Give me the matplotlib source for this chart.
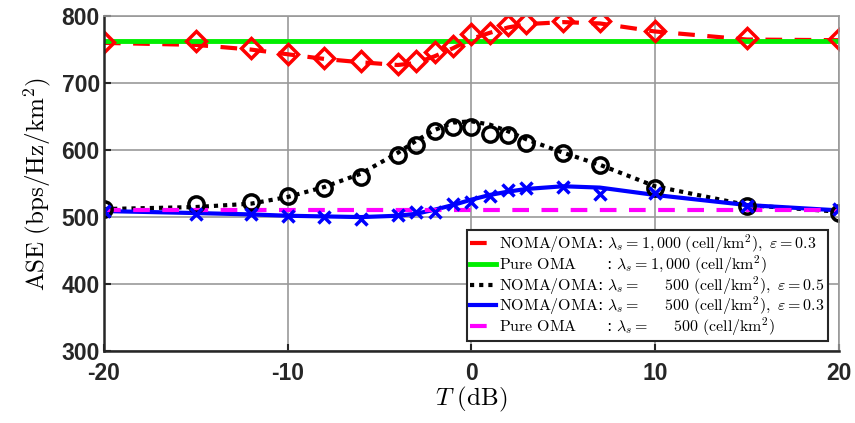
import matplotlib
matplotlib.use('Agg')
import matplotlib.pyplot as plt

plt.rcParams['mathtext.fontset'] = 'cm'
plt.rcParams['axes.unicode_minus'] = False

# T grid (dB) used by all curves
T = [-20, -15, -12, -10, -8, -6, -4, -3, -2, -1, 0, 1, 2, 3, 5, 7, 10, 15, 20]

# lambda_s = 1000, eps = 0.3 (analysis line and simulation markers)
red_line = [760, 757, 750, 743, 736, 731, 727, 730, 740, 752, 766, 775, 783, 788, 791, 789, 777, 765, 764]
red_sim = [762, 763, 752, 743, 737, 733, 728, 733, 747, 756, 773, 775, 787, 790, 793, 792, 778, 767, 766]

# lambda_s = 500, eps = 0.5
blk_line = [512, 515, 520, 530, 545, 565, 596, 614, 630, 641, 643, 638, 628, 616, 596, 578, 546, 518, 508]
blk_sim = [512, 519, 522, 532, 544, 560, 592, 607, 629, 635, 635, 624, 622, 611, 596, 577, 544, 517, 506]

# lambda_s = 500, eps = 0.3
blu_line = [509, 506, 504, 502, 501, 500, 502, 505, 511, 518, 526, 533, 538, 542, 546, 544, 533, 518, 510]
blu_sim = [509, 505, 505, 502, 500, 497, 503, 508, 507, 519, 523, 532, 540, 544, 545, 535, 536, 517, 512]

# pure OMA
oma_1000 = 763
oma_500 = 510

labels = [
    r'$\mathrm{NOMA/OMA}$: $\lambda_s = 1,000\ \mathrm{(cell/km^2)},\ \varepsilon = 0.3$',
    r'$\mathrm{Pure\ OMA}\quad\ \ \ \,$: $\lambda_s = 1,000\ \mathrm{(cell/km^2)}$',
    r'$\mathrm{NOMA/OMA}$: $\lambda_s =\quad\ \ 500\ \mathrm{(cell/km^2)},\ \varepsilon = 0.5$',
    r'$\mathrm{NOMA/OMA}$: $\lambda_s =\quad\ \ 500\ \mathrm{(cell/km^2)},\ \varepsilon = 0.3$',
    r'$\mathrm{Pure\ OMA}\quad\ \ \ \,$: $\lambda_s =\quad\ \ 500\ \mathrm{(cell/km^2)}$',
]

fig = plt.figure(figsize=(8.55, 4.23), dpi=100)
ax = fig.add_axes([0.1216, 0.170, 0.8594, 0.792])

h1, = ax.plot(T, red_line, color='red', ls=(0, (4, 3)), lw=3)
h2, = ax.plot([T[0], T[-1]], [oma_1000, oma_1000], color='#00ee00', lw=3.5)
h3, = ax.plot(T, blk_line, color='black', ls=(0, (1, 1.2)), lw=3)
h4, = ax.plot(T, blu_line, color='blue', lw=3)
h5, = ax.plot([T[0], T[-1]], [oma_500, oma_500], color='magenta', ls=(0, (4, 3)), lw=3)

ax.plot(T, red_sim, ls='none', marker='D', ms=10, mfc='none', mec='red', mew=2.5)
ax.plot(T, blk_sim, ls='none', marker='o', ms=11, mfc='none', mec='black', mew=2.5)
ax.plot(T, blu_sim, ls='none', marker='x', ms=9, mec='blue', mew=2.5)

ax.set_xlim(-20, 20)
ax.set_ylim(300, 800)
ax.set_xticks([-20, -10, 0, 10, 20])
ax.set_yticks([300, 400, 500, 600, 700, 800])
ax.grid(True, color='#999999', lw=1.2)
ax.set_axisbelow(True)
for lab in ax.get_xticklabels() + ax.get_yticklabels():
    lab.set_fontfamily('Liberation Sans')
    lab.set_fontweight('bold')
    lab.set_fontsize(16.5)
    lab.set_color('#262626')
ax.tick_params(direction='in', length=5, width=1.5, color='#262626', pad=3)
ax.tick_params(axis='x', pad=8)
for s in ['left', 'bottom']:
    ax.spines[s].set_linewidth(1.8)
    ax.spines[s].set_color('#262626')
for s in ['top', 'right']:
    ax.spines[s].set_linewidth(1.2)
    ax.spines[s].set_color('#999999')

ax.set_xlabel(r'$T\ \mathrm{(dB)}$', fontsize=18, labelpad=0)
ax.set_ylabel(r'$\mathrm{ASE\ (bps/Hz/km^2)}$', fontsize=18, labelpad=6)

leg = ax.legend([h1, h2, h3, h4, h5], labels, loc='lower right', fontsize=11.5,
                bbox_to_anchor=(0.985, 0.03), handlelength=1.6, handletextpad=0.2,
                borderpad=0.2, labelspacing=-0.12, borderaxespad=0, fancybox=False,
                framealpha=1)
leg.get_frame().set_edgecolor('#262626')
leg.get_frame().set_linewidth(1.5)

fig.savefig('out.png', dpi=100)
